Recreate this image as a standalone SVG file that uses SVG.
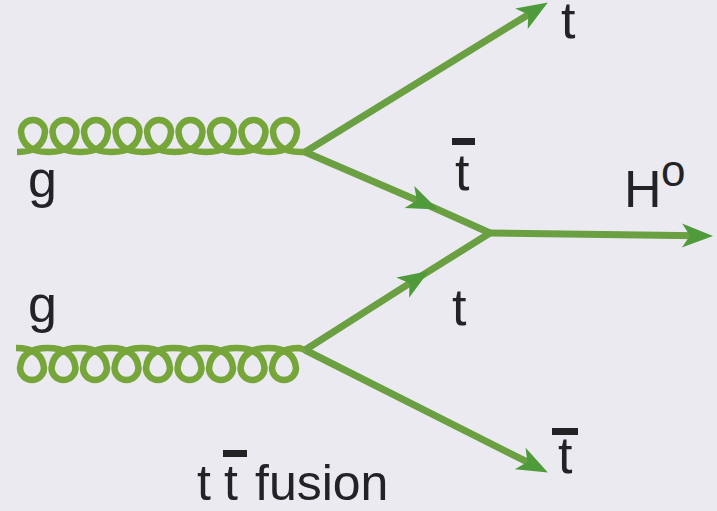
<svg xmlns="http://www.w3.org/2000/svg" width="717" height="511" viewBox="0 0 717 511">
<defs>
<style>
.line{fill:none;stroke:#6a9f42;stroke-width:7;stroke-linejoin:round}
.gluon{fill:none;stroke:#76a63a;stroke-width:6.5;stroke-linejoin:round}
.lbl{font-family:"Liberation Sans",Arial,sans-serif;font-size:52px;fill:#232326}
.cap{font-size:50px}
.bar{fill:#232326}
</style>
<marker id="arr" markerUnits="userSpaceOnUse" viewBox="-18 -14 36 28" markerWidth="36" markerHeight="28" refX="0" refY="0" orient="auto" overflow="visible">
<path d="M16,0 L-15,-12 L-7,0 L-15,12 Z" fill="#4f9b3c"/>
</marker>
</defs>
<rect width="717" height="511" fill="#ebeaf1"/>
<g id="gluon-upper">
<path class="gluon" d="M17,152 q26,0 28,-20 a12 12 0 1 0 -24,0 q2,20 27.5,20 q26,0 28,-20 a12 12 0 1 0 -24,0 q2,20 27.5,20 q26,0 28,-20 a12 12 0 1 0 -24,0 q2,20 27.5,20 q26,0 28,-20 a12 12 0 1 0 -24,0 q2,20 27.5,20 q26,0 28,-20 a12 12 0 1 0 -24,0 q2,20 27.5,20 q26,0 28,-20 a12 12 0 1 0 -24,0 q2,20 27.5,20 q26,0 28,-20 a12 12 0 1 0 -24,0 q2,20 27.5,20 q26,0 28,-20 a12 12 0 1 0 -24,0 q2,20 27.5,20 q26,0 28,-20 a12 12 0 1 0 -24,0 q2,20 27.5,20 L305,152"/>
<text class="lbl" x="28" y="197">g</text>
</g>
<g id="gluon-lower">
<path class="gluon" d="M16,348 q26,0 28,20 a12 12 0 1 1 -24,0 q2,-20 27.5,-20 q26,0 28,20 a12 12 0 1 1 -24,0 q2,-20 27.5,-20 q26,0 28,20 a12 12 0 1 1 -24,0 q2,-20 27.5,-20 q26,0 28,20 a12 12 0 1 1 -24,0 q2,-20 27.5,-20 q26,0 28,20 a12 12 0 1 1 -24,0 q2,-20 27.5,-20 q26,0 28,20 a12 12 0 1 1 -24,0 q2,-20 27.5,-20 q26,0 28,20 a12 12 0 1 1 -24,0 q2,-20 27.5,-20 q26,0 28,20 a12 12 0 1 1 -24,0 q2,-20 27.5,-20 q26,0 28,20 a12 12 0 1 1 -24,0 q2,-20 27.5,-20 L305,350"/>
<text class="lbl" x="28" y="322">g</text>
</g>
<g id="connectors">
<path class="line" d="M305,152 L534.2,10.9" marker-end="url(#arr)"/>
<path class="line" d="M305,152 L423.2,203 L490,233" marker-mid="url(#arr)"/>
<path class="line" d="M305,350 L415.4,279.6 L490,233" marker-mid="url(#arr)"/>
<path class="line" d="M305,350 L533.6,465.2" marker-end="url(#arr)"/>
<path class="line" d="M490,233 L697,235.8" marker-end="url(#arr)"/>
</g>
<g id="top-out">
<text class="lbl" x="561" y="38">t</text>
</g>
<g id="tbar-internal">
<rect class="bar" x="452" y="138" width="23" height="7"/>
<text class="lbl" x="455" y="190">t</text>
</g>
<g id="higgs">
<text class="lbl" x="624" y="207">H<tspan x="661" y="186" font-size="44">o</tspan></text>
</g>
<g id="t-internal">
<text class="lbl" x="452" y="325">t</text>
</g>
<g id="tbar-out">
<rect class="bar" x="552" y="428" width="26" height="7"/>
<text class="lbl" x="558" y="473">t</text>
</g>
<g id="caption">
<text class="lbl cap" x="197" y="500">t</text>
<rect class="bar" x="223" y="450" width="24" height="7"/>
<text class="lbl cap" x="224" y="500">t</text>
<text class="lbl cap" x="255" y="500">fusion</text>
</g>
</svg>
